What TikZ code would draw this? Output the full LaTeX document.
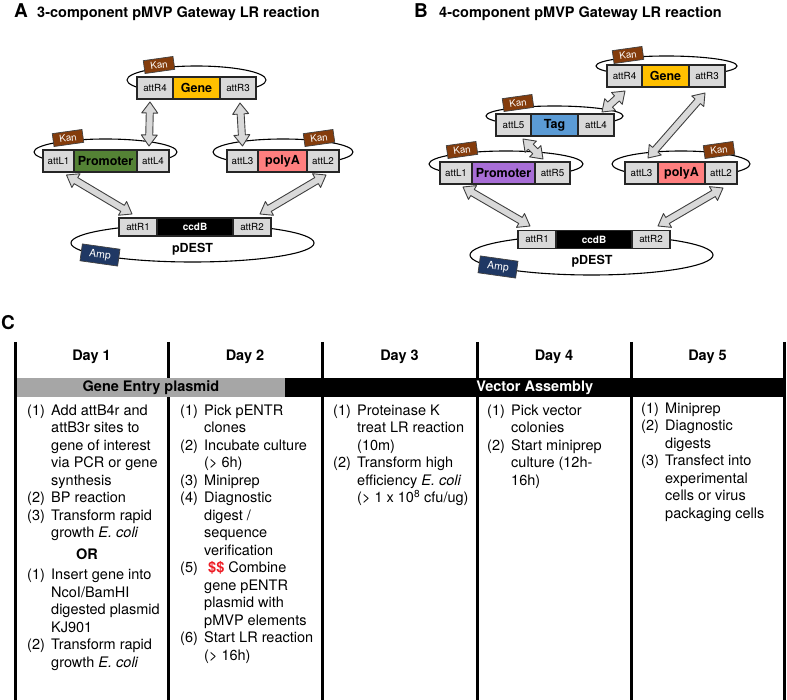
\documentclass[tikz,border=0pt]{standalone}
\usepackage{fontspec}
\setmainfont{TeX Gyre Heros}
\usetikzlibrary{positioning,calc}

\definecolor{attgray}{RGB}{217,217,217}
\definecolor{genecol}{RGB}{255,192,0}
\definecolor{promA}{RGB}{84,130,53}
\definecolor{promB}{RGB}{168,110,214}
\definecolor{tagcol}{RGB}{91,155,213}
\definecolor{polyacol}{RGB}{255,127,127}
\definecolor{kancol}{RGB}{132,60,12}
\definecolor{ampcol}{RGB}{31,56,100}
\definecolor{bandgray}{RGB}{166,166,166}
\definecolor{dollar}{RGB}{237,28,36}

\newcommand{\nr}[1]{\makebox[24pt][l]{#1}}
\newcommand{\ind}{\hspace*{24pt}}
\newcommand{\dblarrow}[2]{%
  \draw[blockarrow] (#1)
    -- ($(#1)!11pt!(#2)!8pt!90:(#2)$) -- ($(#1)!11pt!(#2)!3.5pt!90:(#2)$)
    -- ($(#2)!11pt!(#1)!3.5pt!-90:(#1)$) -- ($(#2)!11pt!(#1)!8pt!-90:(#1)$)
    -- (#2)
    -- ($(#2)!11pt!(#1)!8pt!90:(#1)$) -- ($(#2)!11pt!(#1)!3.5pt!90:(#1)$)
    -- ($(#1)!11pt!(#2)!3.5pt!-90:(#2)$) -- ($(#1)!11pt!(#2)!8pt!-90:(#2)$)
    -- cycle;}

\begin{document}
\begin{tikzpicture}[x=1pt,y=-1pt,
  box/.style={draw=black!85,line width=1.2pt,inner sep=0pt,outer sep=0pt,minimum height=22pt,font=\fontsize{9.8}{11}\selectfont},
  att/.style={box,fill=attgray},
  part/.style={box,font=\bfseries\fontsize{12.5}{14}\selectfont},
  ccdb/.style={box,fill=black,text=white,minimum width=76pt,minimum height=18pt,font=\bfseries\fontsize{10}{12}\selectfont},
  ring/.style={line width=1.1pt},
  res/.style={draw=black!75,line width=0.7pt,text=white,inner sep=0pt,minimum height=13pt,font=\fontsize{9.8}{11}\selectfont},
  kan/.style={res,fill=kancol,minimum width=30pt,rotate=8},
  amp/.style={res,fill=ampcol,minimum width=38pt,minimum height=17pt,rotate=-8,font=\fontsize{10.5}{12}\selectfont},
  dest/.style={font=\bfseries\fontsize{12.5}{14}\selectfont},
  blockarrow/.style={fill=attgray,draw=black!75,line width=0.9pt,line join=round},
  title/.style={font=\bfseries\fontsize{14.5}{17}\selectfont,inner sep=0pt,anchor=base west},
  letter/.style={font=\bfseries\fontsize{19}{22}\selectfont,inner sep=0pt,anchor=base west},
  day/.style={font=\bfseries\fontsize{14.5}{17}\selectfont},
  band/.style={anchor=north west,inner sep=0pt,minimum height=19pt,font=\bfseries\fontsize{14.5}{17}\selectfont},
  steps/.style={anchor=north west,align=left,inner sep=0pt,font=\fontsize{14.5}{17.5}\selectfont}]
\useasboundingbox (0,0) rectangle (787,700);

\node[letter] (labA) at (14,17.5) {A};
\node[title] (titA) at (37,17.5) {3-component pMVP Gateway LR reaction};
\node[letter] (labB) at (414,17.5) {B};
\node[title] (titB) at (439,17.5) {4-component pMVP Gateway LR reaction};
\node[letter] (labC) at (1,330) {C};

% panel A
\draw[ring] (196.5,80) ellipse [x radius=69.5,y radius=14];
\node[att,minimum width=36pt] (gA1) at (155,88) {attR4};
\node[part,fill=genecol,minimum width=47pt,right=0pt of gA1] (gA2) {Gene};
\node[att,minimum width=36pt,right=0pt of gA2] (gA3) {attR3};
\node[kan] (kA1) at (159,65) {Kan};

\draw[ring] (105.5,152) ellipse [x radius=71.5,y radius=13];
\node[att,minimum width=31pt] (pA1) at (58.5,161) {attL1};
\node[part,fill=promA,minimum width=63pt,right=0pt of pA1] (pA2) {Promoter};
\node[att,minimum width=32pt,right=0pt of pA2] (pA3) {attL4};
\node[kan] (kA2) at (68,138) {Kan};

\draw[ring] (283,152) ellipse [x radius=70,y radius=13];
\node[att,minimum width=31pt] (yA1) at (242.5,161) {attL3};
\node[part,fill=polyacol,minimum width=49pt,right=0pt of yA1] (yA2) {polyA};
\node[att,minimum width=32pt,right=0pt of yA2] (yA3) {attL2};
\node[kan] (kA3) at (319,138) {Kan};

\draw[ring] (192.5,243) ellipse [x radius=121.5,y radius=19];
\node[att,minimum width=38pt,minimum height=18pt] (dA1) at (138,227) {attR1};
\node[ccdb,right=0pt of dA1] (dA2) {ccdB};
\node[att,minimum width=38pt,minimum height=18pt,right=0pt of dA2] (dA3) {attR2};
\node[dest] (pdA) at (192.5,249) {pDEST};
\node[amp] (ampA) at (100,255) {Amp};

\coordinate (a1) at ([shift={(-5,3)}]gA1.south);
\coordinate (a2) at ([shift={(-4,-4)}]pA3.north);
\coordinate (a3) at ([shift={(2,4)}]gA3.south);
\coordinate (a4) at ([shift={(0,-4)}]yA1.north);
\coordinate (a5) at ([shift={(8,3)}]pA1.south);
\coordinate (a6) at ([shift={(-6,-4)}]dA1.north);
\coordinate (a7) at ([shift={(3,3)}]yA3.south);
\coordinate (a8) at ([shift={(8,-4)}]dA3.north);
\dblarrow{a1}{a2}
\dblarrow{a3}{a4}
\dblarrow{a5}{a6}
\dblarrow{a7}{a8}

% panel B
\draw[ring] (666.5,66) ellipse [x radius=70.5,y radius=10];
\node[att,minimum width=35pt] (gB1) at (624.5,76) {attR4};
\node[part,fill=genecol,minimum width=47pt,right=0pt of gB1] (gB2) {Gene};
\node[att,minimum width=36pt,right=0pt of gB2] (gB3) {attR3};
\node[kan] (kB1) at (628,55) {Kan};

\draw[ring] (554.5,116) ellipse [x radius=68.5,y radius=10];
\node[att,minimum width=35pt] (tB1) at (513.5,125) {attL5};
\node[part,fill=tagcol,minimum width=47pt,right=0pt of tB1] (tB2) {Tag};
\node[att,minimum width=36pt,right=0pt of tB2] (tB3) {attL4};
\node[kan] (kB2) at (518,103) {Kan};

\draw[ring] (506,164) ellipse [x radius=77,y radius=13];
\node[att,minimum width=32pt] (rB1) at (456,173) {attL1};
\node[part,fill=promB,minimum width=63pt,right=0pt of rB1] (rB2) {Promoter};
\node[att,minimum width=35pt,right=0pt of rB2] (rB3) {attR5};
\node[kan] (kB3) at (462,150) {Kan};

\draw[ring] (681,164) ellipse [x radius=69,y radius=13];
\node[att,minimum width=33pt] (yB1) at (641.5,173) {attL3};
\node[part,fill=polyacol,minimum width=47pt,right=0pt of yB1] (yB2) {polyA};
\node[att,minimum width=32pt,right=0pt of yB2] (yB3) {attL2};
\node[kan] (kB4) at (719,150) {Kan};

\draw[ring] (591.5,255) ellipse [x radius=121.5,y radius=20];
\node[att,minimum width=38pt,minimum height=18pt] (dB1) at (537,239.5) {attR1};
\node[ccdb,right=0pt of dB1] (dB2) {ccdB};
\node[att,minimum width=38pt,minimum height=18pt,right=0pt of dB2] (dB3) {attR2};
\node[dest] (pdB) at (592,261) {pDEST};
\node[amp] (ampB) at (498,267) {Amp};

\coordinate (b1) at ([shift={(6,-2)}]tB3.north);
\coordinate (b2) at ([shift={(0.5,4)}]gB1.south);
\coordinate (b3) at ([shift={(9.5,3)}]tB1.south);
\coordinate (b4) at ([shift={(-9.5,-3)}]rB3.north);
\coordinate (b5) at ([shift={(-2,6)}]gB3.south);
\coordinate (b6) at ([shift={(6.5,-4)}]yB1.north);
\coordinate (b7) at ([shift={(7,3)}]rB1.south);
\coordinate (b8) at ([shift={(-7,-4.5)}]dB1.north);
\coordinate (b9) at ([shift={(2,4)}]yB3.south);
\coordinate (b10) at ([shift={(7,-4.5)}]dB3.north);
\dblarrow{b1}{b2}
\dblarrow{b3}{b4}
\dblarrow{b5}{b6}
\dblarrow{b7}{b8}
\dblarrow{b9}{b10}

% panel C
\foreach \x in {15,168,322,477,631,784}
  \draw[line width=3pt] (\x,342) -- (\x,700);
\foreach \d/\x in {1/91.5,2/245,3/399.5,4/554,5/707.5}
  \node[day] (day\d) at (\x,357) {Day \d};
\node[band,fill=bandgray,minimum width=268.5pt] (entry) at (16.5,378) {Gene Entry plasmid};
\node[band,fill=black,text=white,minimum width=499pt] (vector) at (285,378) {Vector Assembly};

\node[steps] (col1) at (27,404.5) {\nr{(1)}Add attB4r and\\
  \ind attB3r sites to\\
  \ind gene of interest\\
  \ind via PCR or gene\\
  \ind synthesis\\
  \nr{(2)}BP reaction\\
  \nr{(3)}Transform rapid\\
  \ind growth \textit{E. coli}\\[4.5pt]
  \hspace*{49pt}\textbf{OR}\\[2.5pt]
  \nr{(1)}Insert gene into\\
  \ind NcoI/BamHI\\
  \ind digested plasmid\\
  \ind KJ901\\
  \nr{(2)}Transform rapid\\
  \ind growth \textit{E. coli}};
\node[steps] (col2) at (180,404.5) {\nr{(1)}Pick pENTR\\
  \ind clones\\
  \nr{(2)}Incubate culture\\
  \ind (> 6h)\\
  \nr{(3)}Miniprep\\
  \nr{(4)}Diagnostic\\
  \ind digest /\\
  \ind sequence\\
  \ind verification\\
  \nr{(5)}\hspace{4pt}\textcolor{dollar}{\textbf{\$\$}} Combine\\
  \ind gene pENTR\\
  \ind plasmid with\\
  \ind pMVP elements\\
  \nr{(6)}Start LR reaction\\
  \ind (> 16h)};
\node[steps] (col3) at (333,404.5) {\nr{(1)}Proteinase K\\
  \ind treat LR reaction\\
  \ind (10m)\\
  \nr{(2)}Transform high\\
  \ind efficiency \textit{E. coli}\\
  \ind (> 1 x 10\textsuperscript{8} cfu/ug)};
\node[steps] (col4) at (487,404.5) {\nr{(1)}Pick vector\\
  \ind colonies\\
  \nr{(2)}Start miniprep\\
  \ind culture (12h-\\
  \ind 16h)};
\node[steps] (col5) at (641,402.5) {\nr{(1)}Miniprep\\
  \nr{(2)}Diagnostic\\
  \ind digests\\
  \nr{(3)}Transfect into\\
  \ind experimental\\
  \ind cells or virus\\
  \ind packaging cells};
\end{tikzpicture}
\end{document}
